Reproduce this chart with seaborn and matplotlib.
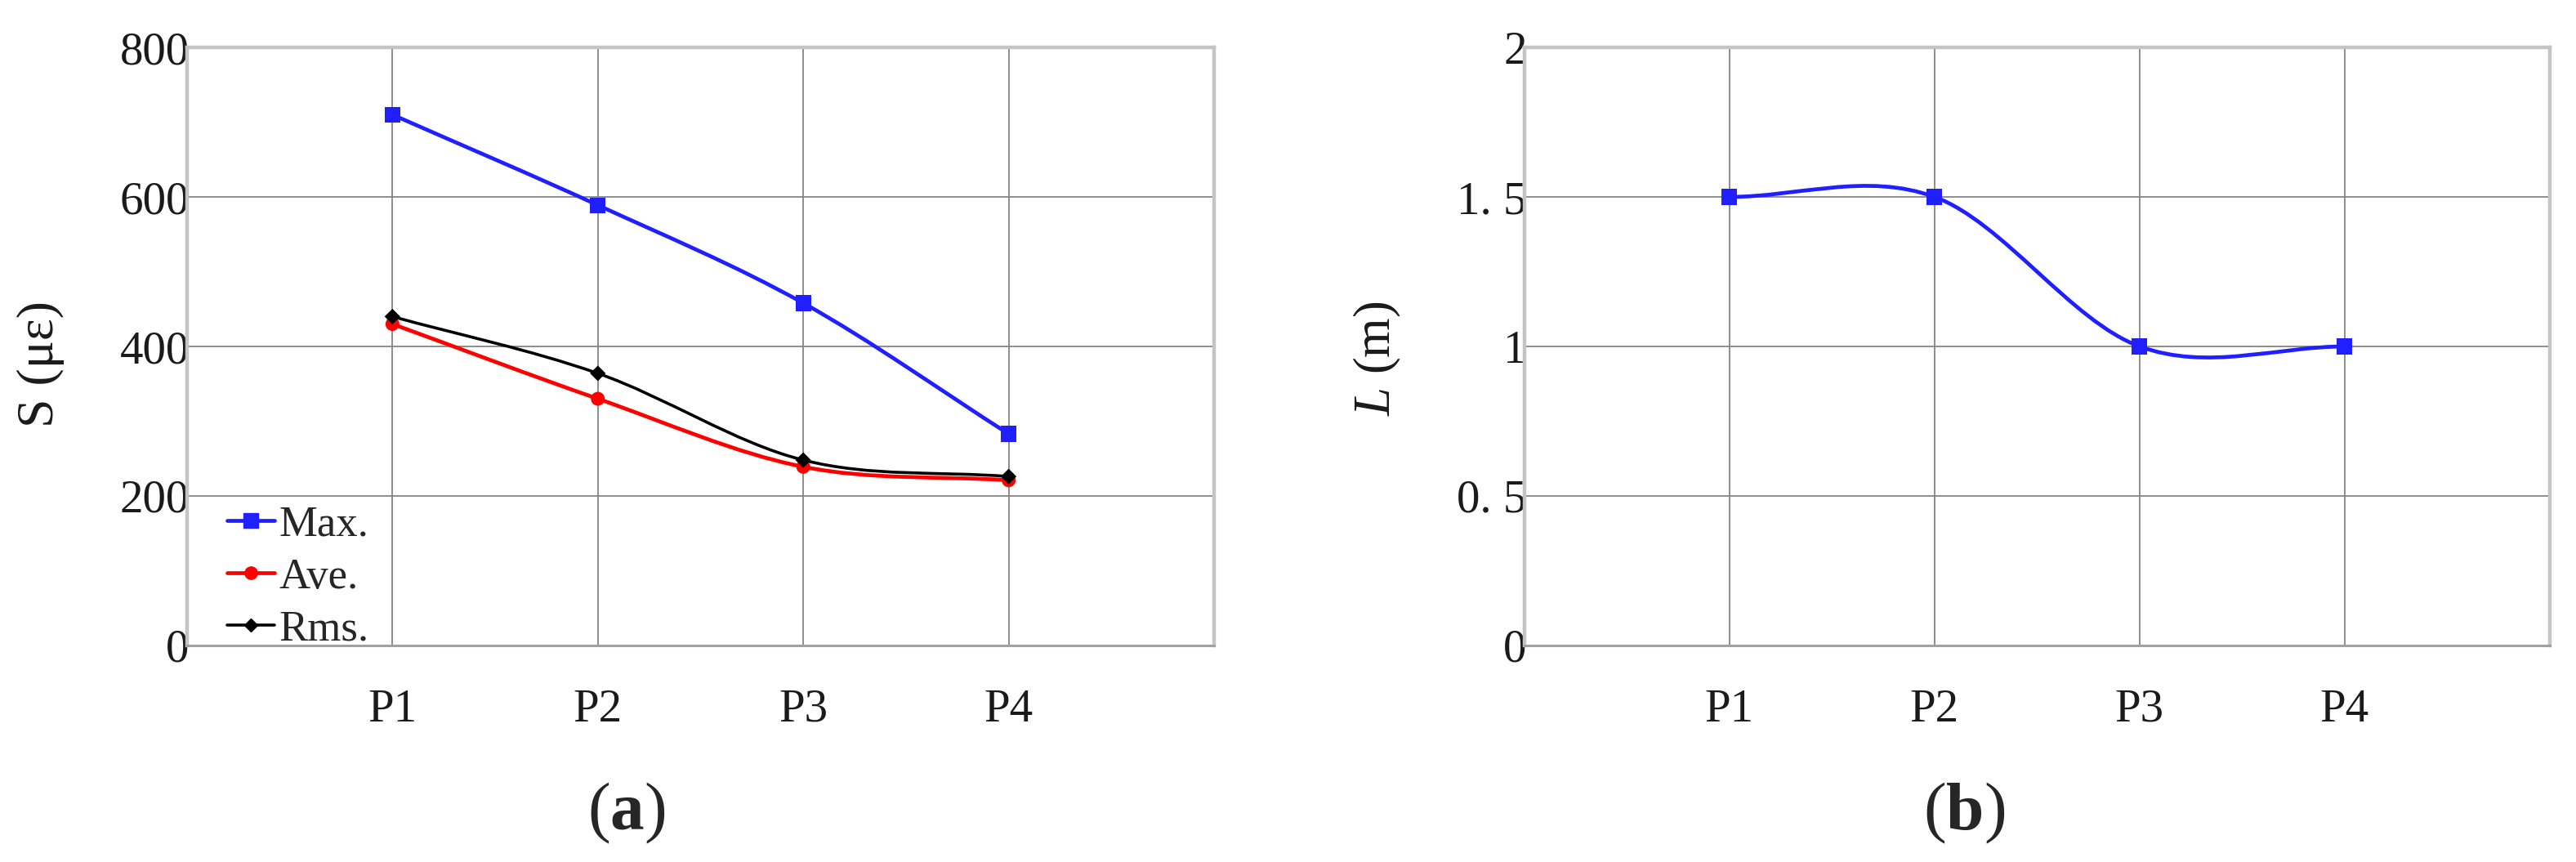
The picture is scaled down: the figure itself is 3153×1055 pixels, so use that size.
'''Strain along the measuring points (a) and affected length (b).'''
import numpy as np
import pandas as pd
import seaborn as sns
import matplotlib
matplotlib.use('Agg')
import matplotlib.pyplot as plt
from matplotlib.path import Path
from matplotlib.patches import PathPatch
from matplotlib.lines import Line2D

# data
positions = ['P1', 'P2', 'P3', 'P4']
max_strain = [710, 589, 458, 283]
ave_strain = [430, 330, 239, 221]
rms_strain = [440, 364, 248, 226]
length_m = [1.5, 1.5, 1.0, 1.0]

s_ticks = [0, 200, 400, 600, 800]
l_ticks = [0, 0.5, 1, 1.5, 2]
l_tick_labels = ['0', '0. 5', '1', '1. 5', '2']

BLUE = '#1f1fff'
RED = '#ff0000'
GRID = '#858585'
SPINE = '#c4c4c4'

sns.set_style('white')
plt.rcParams['font.family'] = ['Liberation Serif', 'DejaVu Serif']
plt.rcParams['mathtext.fontset'] = 'custom'
plt.rcParams['mathtext.rm'] = 'Liberation Serif'
plt.rcParams['mathtext.it'] = 'Liberation Serif:italic'
plt.rcParams['mathtext.bf'] = 'Liberation Serif:bold'


def smooth_path(ax, xs, ys, color, lw):
    '''Draw an Excel-like smoothed line as cubic Bezier segments.'''
    pts = np.column_stack([xs, ys]).astype(float)
    # reflect the end points so the end tangents follow the first/last segment
    ext = np.vstack([2 * pts[0] - pts[1], pts, 2 * pts[-1] - pts[-2]])
    verts = [tuple(pts[0])]
    codes = [Path.MOVETO]
    for i in range(len(pts) - 1):
        p0, p1, p2, p3 = ext[i], ext[i + 1], ext[i + 2], ext[i + 3]
        c1 = p1 + (p2 - p0) / 6
        c2 = p2 - (p3 - p1) / 6
        verts += [tuple(c1), tuple(c2), tuple(p2)]
        codes += [Path.CURVE4] * 3
    ax.add_patch(PathPatch(Path(verts, codes), facecolor='none',
                           edgecolor=color, lw=lw, zorder=3))


def style_axes(ax):
    ax.set_xlim(0, 5)
    ax.set_xticks([1, 2, 3, 4, 5])
    ax.set_xticklabels(positions + [''])
    ax.grid(True, color=GRID, lw=1.3)
    ax.set_axisbelow(True)
    for side in ['top', 'left', 'right']:
        ax.spines[side].set_color(SPINE)
        ax.spines[side].set_linewidth(3.2)
    ax.spines['bottom'].set_color('#a0a0a0')
    ax.spines['bottom'].set_linewidth(2.2)
    ax.tick_params(axis='both', length=0, labelsize=41, labelcolor='#1a1a1a')
    ax.tick_params(axis='x', pad=38)
    ax.tick_params(axis='y', pad=-2)


fig = plt.figure(figsize=(31.53, 10.55), dpi=100)
ax1 = fig.add_axes([0.0726, 0.2512, 0.3987, 0.6938])
ax2 = fig.add_axes([0.5918, 0.2512, 0.3980, 0.6938])

x = np.arange(1, len(positions) + 1)
df = pd.DataFrame({'x': x, 'Max.': max_strain, 'Ave.': ave_strain,
                   'Rms.': rms_strain, 'L': length_m})

# (a) strain
series = [('Max.', BLUE, 's', 190), ('Ave.', RED, 'o', 150), ('Rms.', 'black', 'D', 95)]
for name, color, marker, size in series:
    smooth_path(ax1, df['x'], df[name], color, 2.6 if name == 'Rms.' else 3.4)
    sns.scatterplot(data=df, x='x', y=name, ax=ax1, color=color, marker=marker,
                    s=size, edgecolor='none', zorder=4, legend=False)
style_axes(ax1)
ax1.set_ylim(0, 800)
ax1.set_yticks(s_ticks)
ax1.set_yticklabels([str(t) for t in s_ticks])
ax1.set_xlabel('')
ax1.set_ylabel('S (\u03bc\u03b5)', fontsize=46, color='#1a1a1a')
ax1.yaxis.set_label_coords(-0.119, 0.47)

handles = [Line2D([], [], color=BLUE, lw=3.4, marker='s', ms=13),
           Line2D([], [], color=RED, lw=3.4, marker='o', ms=11),
           Line2D([], [], color='black', lw=2.6, marker='D', ms=8)]
ax1.legend(handles, ['Max.', 'Ave.', 'Rms.'], loc='lower left', frameon=False,
           fontsize=38, handlelength=1.1, handletextpad=0.1, labelspacing=0.3,
           borderaxespad=0.0, bbox_to_anchor=(0.022, -0.035))

# (b) length
smooth_path(ax2, df['x'], df['L'], BLUE, 3.4)
sns.scatterplot(data=df, x='x', y='L', ax=ax2, color=BLUE, marker='s', s=190,
                edgecolor='none', zorder=4, legend=False)
style_axes(ax2)
ax2.set_ylim(0, 2)
ax2.set_yticks(l_ticks)
ax2.set_yticklabels(l_tick_labels)
ax2.set_xlabel('')
ax2.set_ylabel(r'$\mathit{L}$ (m)', fontsize=45, color='#1a1a1a')
ax2.yaxis.set_label_coords(-0.119, 0.48)

fig.text(767 / 3153, 1 - 995 / 1055, r'($\mathbf{a}$)', fontsize=60,
         ha='center', va='center')
fig.text(2404 / 3153, 1 - 995 / 1055, r'($\mathbf{b}$)', fontsize=60,
         ha='center', va='center')

fig.savefig('out.png', dpi=100)
